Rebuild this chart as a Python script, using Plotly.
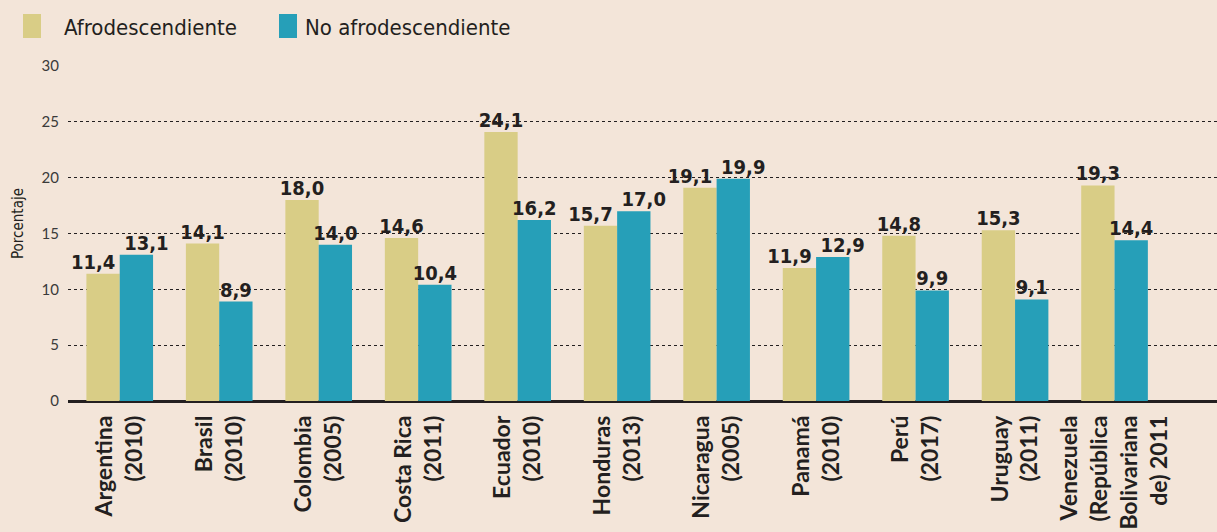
import plotly.graph_objects as go

categories = [
    "Argentina<br>(2010)", "Brasil<br>(2010)", "Colombia<br>(2005)", "Costa Rica<br>(2011)",
    "Ecuador<br>(2010)", "Honduras<br>(2013)", "Nicaragua<br>(2005)", "Panamá<br>(2010)",
    "Perú<br>(2017)", "Uruguay<br>(2011)",
    "Venezuela<br>(República<br>Bolivariana<br>de) 2011",
]
afro = [11.4, 14.1, 18.0, 14.6, 24.1, 15.7, 19.1, 11.9, 14.8, 15.3, 19.3]
no_afro = [13.1, 8.9, 14.0, 10.4, 16.2, 17.0, 19.9, 12.9, 9.9, 9.1, 14.4]
series_names = ["Afrodescendiente", "No afrodescendiente"]
y_ticks = [0, 5, 10, 15, 20, 25, 30]

BG = "#F3E5D9"
YEL = "#D9CD86"
BLU = "#269FB8"
DARK = "#231F20"
COND = "'DejaVu Sans Condensed', 'DejaVu Sans', sans-serif"

BARGAP = 0.33
HALF = (1 - BARGAP) / 4  # offset of each bar centre from category centre

def fmt(v):
    return f"{v:.1f}".replace(".", ",")

xs = list(range(len(categories)))
fig = go.Figure()
for name, vals, col in [(series_names[0], afro, YEL), (series_names[1], no_afro, BLU)]:
    fig.add_trace(go.Bar(
        x=xs, y=vals, name=name, marker_color=col, marker_line_width=0,
        showlegend=False, hoverinfo="skip",
    ))

# value labels: nudge apart when the pair of labels are at similar heights
for sign, vals, other in [(-1, afro, no_afro), (1, no_afro, afro)]:
    lx = []
    for i, (v, o) in enumerate(zip(vals, other)):
        nudge = 0.10 if abs(v - o) < 1.8 else 0.0
        lx.append(i + sign * (HALF + nudge))
    fig.add_trace(go.Scatter(
        x=lx, y=vals, mode="text", text=[fmt(v) for v in vals],
        textposition="top center", cliponaxis=False, showlegend=False, hoverinfo="skip",
        textfont=dict(family=COND, size=20, color=DARK, weight="bold"),
    ))

fig.update_layout(
    width=1217, height=532,
    paper_bgcolor=BG, plot_bgcolor=BG,
    barmode="group", bargap=BARGAP, bargroupgap=0,
    margin=dict(l=68, r=0, t=66, b=131),
    xaxis=dict(
        tickmode="array", tickvals=xs, ticktext=categories,
        tickangle=-90, range=[-0.52, 11.03],
        tickfont=dict(family="Lato", size=23, color=DARK, weight="bold"),
        showgrid=False, showline=False, zeroline=False, ticks="",
        ticklabelstandoff=9,
    ),
    yaxis=dict(
        range=[0, 30], tickvals=y_ticks, showgrid=True,
        gridcolor=DARK, griddash="dot", gridwidth=1,
        zeroline=True, zerolinecolor=DARK, zerolinewidth=3,
        tickfont=dict(family="Lato", size=15, color="#3a3a3a"),
        ticks="", ticklabelstandoff=8, showline=False,
    ),
    font=dict(family="Lato", color=DARK),
)

def px_x(x):
    return (x - 68) / 1149
def px_y(y):
    return (401 - y) / 335

for (x0, x1, col, name, tx) in [(23, 41, YEL, series_names[0], 62), (279, 297, BLU, series_names[1], 303)]:
    fig.add_shape(type="rect", xref="paper", yref="paper",
                  x0=px_x(x0), x1=px_x(x1), y0=px_y(38), y1=px_y(14),
                  fillcolor=col, line_width=0)
    fig.add_annotation(xref="paper", yref="paper", x=px_x(tx), y=px_y(27),
                       xanchor="left", yanchor="middle", text=name, showarrow=False,
                       font=dict(family=COND, size=22, color=DARK))

fig.add_annotation(xref="paper", yref="paper", x=px_x(18), y=px_y(224),
                   text="Porcentaje", textangle=-90, showarrow=False,
                   xanchor="center", yanchor="middle",
                   font=dict(family=COND, size=15, color=DARK))

fig.write_html("out.html", config={"displayModeBar": False},
               post_script="document.body.style.margin='0';")
